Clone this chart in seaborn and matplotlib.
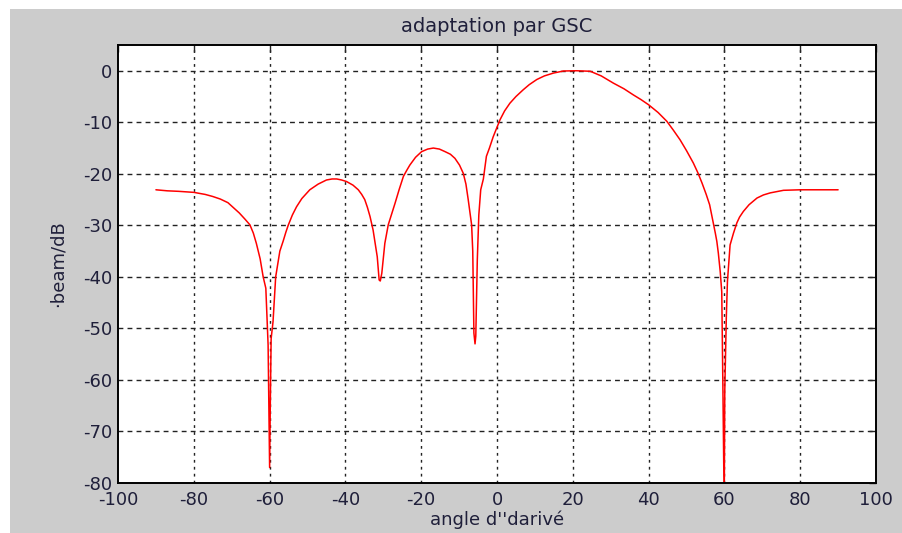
import seaborn as sns
import matplotlib.pyplot as plt
import pandas as pd
from matplotlib.patches import Rectangle

# beam pattern (angle in degrees, level in dB)
angle = [-90, -87, -84, -80, -77, -75, -73, -71, -69.5, -68, -66.5, -65.2, -64.3,
         -63.5, -62.5, -61.7, -61.0, -60.8, -60.4, -60.0, -59.8, -59.6, -59.1,
         -58.4, -57.3, -56.4, -55.7, -55.1, -54.0, -52.9, -51.5, -49.4, -47.2,
         -45.0, -43.5, -42.3, -41.0, -39.7, -38.0, -36.6, -35.7, -34.9, -34.2,
         -33.5, -32.7, -31.6, -31.1, -30.8, -30.4, -29.6, -28.7, -26.9, -25.8,
         -24.7, -23.8, -23.0, -21.5, -19.9, -18.3, -16.8, -15.2, -13.7, -12.3,
         -11.1, -9.9, -8.9, -8.2, -7.6, -6.7, -6.4, -6.1, -5.8, -5.6, -5.2,
         -4.8, -4.3, -3.6, -3.2, -2.8, -2.0, -1.0, 0.8, 2.0, 3.4, 5.0, 6.9,
         8.5, 10.5, 12.5, 14.9, 17.5, 21.0, 24.6, 27.5, 30.7, 33.5, 36.0, 38.0,
         40.0, 42.5, 44.8, 46.5, 48.3, 50.0, 51.8, 53.0, 54.1, 55.2, 56.1, 57.1,
         57.6, 58.0, 58.4, 58.9, 59.3, 59.6, 59.95, 60.1, 60.5, 60.8, 61.5,
         62.4, 63.3, 64.0, 65.0, 66.5, 68.6, 70.3, 72.1, 75.6, 80.0, 90.0]
beam_db = [-23.1, -23.3, -23.4, -23.6, -24.0, -24.4, -24.9, -25.6, -26.6, -27.6,
           -28.8, -29.9, -31.5, -33.5, -36.5, -40.0, -42.2, -46.0, -53.2, -77.0,
           -63.5, -52.0, -48.7, -40.0, -35.0, -33.0, -31.3, -30.0, -28.0, -26.4,
           -24.8, -23.1, -22.0, -21.2, -21.0, -21.0, -21.2, -21.5, -22.2, -23.1,
           -24.0, -25.0, -26.5, -28.3, -30.9, -36.1, -40.6, -40.8, -39.3, -33.5,
           -29.9, -25.7, -23.0, -20.5, -19.3, -18.3, -16.8, -15.7, -15.2, -15.0,
           -15.2, -15.7, -16.2, -17.0, -18.3, -19.9, -22.0, -25.0, -29.9, -35.0,
           -50.9, -53.0, -51.5, -36.7, -28.0, -23.1, -21.0, -18.8, -16.6, -15.0,
           -12.8, -9.5, -7.8, -6.3, -5.0, -3.7, -2.7, -1.7, -1.0, -0.45, -0.05,
           0.0, -0.1, -1.0, -2.4, -3.5, -4.7, -5.6, -6.6, -8.1, -9.8, -11.5,
           -13.4, -15.5, -17.9, -19.8, -21.8, -24.0, -26.0, -29.6, -31.5, -33.1,
           -35.4, -39.0, -42.9, -61.3, -85.0, -62.0, -48.0, -40.9, -33.8, -31.5,
           -29.5, -28.4, -27.3, -26.0, -24.7, -24.1, -23.7, -23.2, -23.1, -23.1]

xticks = [-100, -80, -60, -40, -20, 0, 20, 40, 60, 80, 100]
yticks = [0, -10, -20, -30, -40, -50, -60, -70, -80]

df = pd.DataFrame({"angle": angle, "beam": beam_db})

sns.set_style("white")
plt.rcParams["font.family"] = ["DejaVu Sans"]
plt.rcParams["axes.unicode_minus"] = False

fig = plt.figure(figsize=(9.03, 5.33), dpi=100, facecolor="white")
fig.patches.append(Rectangle((10 / 903, 0), 1, 524 / 533, transform=fig.transFigure,
                             facecolor="#cccccc", edgecolor="none", zorder=-1))
ax = fig.add_axes([0.1307, 0.0938, 0.8394, 0.8218])
ax.set_facecolor("white")

sns.lineplot(data=df, x="angle", y="beam", sort=False, estimator=None,
             color="red", linewidth=1.1, ax=ax)

ax.set_xlim(-100, 100)
ax.set_ylim(-80, 5)
ax.set_xticks(xticks)
ax.set_yticks(yticks)

# MATLAB style dotted grid
for x in xticks[1:-1]:
    ax.axvline(x, color="#222222", linestyle=(0, (2, 3)), linewidth=1.0, zorder=0)
for y in yticks[:-1]:
    ax.axhline(y, color="#222222", linestyle=(0, (3.5, 3)), linewidth=1.0, zorder=0)

for s in ax.spines.values():
    s.set_visible(True)
    s.set_color("black")
    s.set_linewidth(1.4)

ax.tick_params(direction="in", length=5, width=1, top=True, right=True,
               labelsize=13, labelcolor="#1f1f3a", pad=4)
ax.tick_params(axis="x", pad=6)
ax.set_title("adaptation par GSC", fontsize=14, color="#1f1f3a", pad=9)
ax.set_xlabel("angle d''darivé", fontsize=13, color="#1f1f3a", labelpad=1)
ax.set_ylabel("·beam/dB", fontsize=13, color="#1f1f3a", labelpad=12)

plt.savefig("out.png", dpi=100, facecolor="white")
plt.close()
